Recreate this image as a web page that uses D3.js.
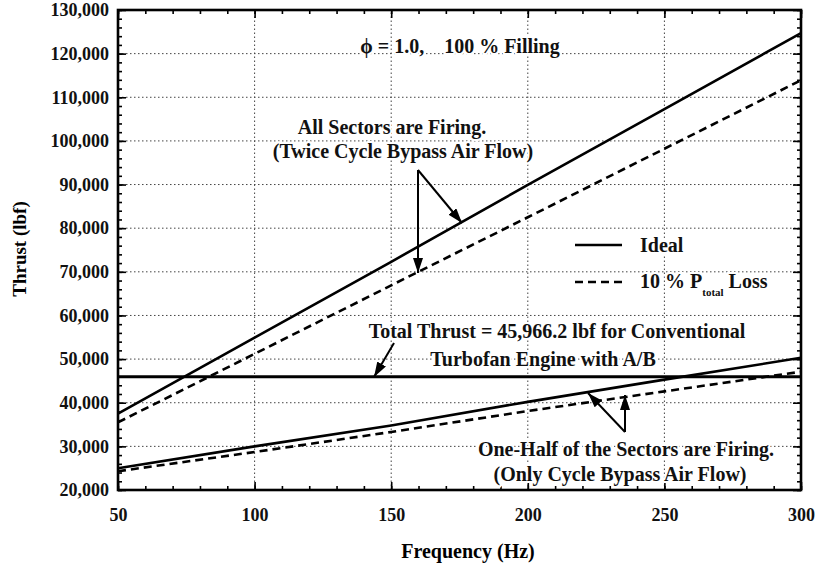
<!DOCTYPE html>
<html><head><meta charset="utf-8">
<script src="https://cdn.jsdelivr.net/npm/d3@7"></script>
<style>body{margin:0;background:#fff}svg{display:block}text{white-space:pre}</style>
</head><body>
<script>
// ---- data ----
const freq = [50, 100, 150, 200, 250, 300];
const allIdeal = [37500, 54900, 72300, 89900, 107300, 124700];
const allLoss  = [35500, 51200, 66900, 82500, 98200, 113900];
const halfIdeal = [25000, 30000, 34800, 40200, 45300, 50300];
const halfLoss  = [24300, 28700, 33300, 38100, 42600, 47100];
const conventional = 45966.2;
const xTicks = [50, 100, 150, 200, 250, 300];
const yTicks = [20000, 30000, 40000, 50000, 60000, 70000, 80000, 90000, 100000, 110000, 120000, 130000];

const W = 820, H = 574;
const m = {l: 118, r: 19, t: 10, b: 84};
const svg = d3.select("body").append("svg").attr("width", W).attr("height", H);
const x = d3.scaleLinear().domain([50, 300]).range([m.l, W - m.r]);
const y = d3.scaleLinear().domain([20000, 130000]).range([H - m.b, m.t]);
const font = "'Liberation Serif','Times New Roman',serif";

// grid
const grid = svg.append("g").attr("stroke", "#444").attr("stroke-width", 1).attr("stroke-dasharray", "1.5,2.5");
grid.selectAll(".gy").data(yTicks.slice(1, -1)).join("line")
  .attr("x1", x(50)).attr("x2", x(300)).attr("y1", d => y(d)).attr("y2", d => y(d));
grid.selectAll(".gx").data(xTicks.slice(1, -1)).join("line")
  .attr("y1", y(20000)).attr("y2", y(130000)).attr("x1", d => x(d)).attr("x2", d => x(d));

// axes with inward ticks
const yMinor = d3.range(20000, 130001, 2000);
const xMinor = d3.range(50, 301, 10);
const axG = svg.append("g");
const mk = (sel) => sel.call(g => g.select(".domain").remove());
axG.append("g").attr("transform", `translate(${x(50)},0)`)
  .call(d3.axisRight(y).tickValues(yMinor).tickSize(4).tickFormat("")).call(mk);
axG.append("g").attr("transform", `translate(${x(50)},0)`)
  .call(d3.axisRight(y).tickValues(yTicks).tickSize(8).tickFormat("")).call(mk);
axG.append("g").attr("transform", `translate(${x(300)},0)`)
  .call(d3.axisLeft(y).tickValues(yMinor).tickSize(4).tickFormat("")).call(mk);
axG.append("g").attr("transform", `translate(${x(300)},0)`)
  .call(d3.axisLeft(y).tickValues(yTicks).tickSize(8).tickFormat("")).call(mk);
axG.append("g").attr("transform", `translate(0,${y(20000)})`)
  .call(d3.axisTop(x).tickValues(xMinor).tickSize(4).tickFormat("")).call(mk);
axG.append("g").attr("transform", `translate(0,${y(20000)})`)
  .call(d3.axisTop(x).tickValues(xTicks).tickSize(8).tickFormat("")).call(mk);
axG.append("g").attr("transform", `translate(0,${y(130000)})`)
  .call(d3.axisBottom(x).tickValues(xMinor).tickSize(4).tickFormat("")).call(mk);
axG.append("g").attr("transform", `translate(0,${y(130000)})`)
  .call(d3.axisBottom(x).tickValues(xTicks).tickSize(8).tickFormat("")).call(mk);
axG.selectAll("line").attr("stroke", "#000").attr("stroke-width", 1.6);

// tick labels
const fmt = d3.format(",");
svg.append("g").attr("transform", `translate(${x(50) - 6},0)`)
  .call(d3.axisLeft(y).tickValues(yTicks).tickSize(0).tickFormat(fmt))
  .call(mk)
  .call(g => g.selectAll("text").attr("font-family", font).attr("font-weight", "bold")
    .attr("font-size", 18).attr("fill", "#111"));
svg.append("g").attr("transform", `translate(0,${y(20000) + 15})`)
  .call(d3.axisBottom(x).tickValues(xTicks).tickSize(0).tickFormat(d3.format("d")))
  .call(mk)
  .call(g => g.selectAll("text").attr("font-family", font).attr("font-weight", "bold")
    .attr("font-size", 18).attr("fill", "#111"));

// axis titles
svg.append("text").attr("x", 468).attr("y", 558).attr("text-anchor", "middle")
  .attr("font-family", font).attr("font-weight", "bold").attr("font-size", 20).text("Frequency (Hz)");
svg.append("text").attr("transform", "translate(26,249) rotate(-90)").attr("text-anchor", "middle")
  .attr("font-family", font).attr("font-weight", "bold").attr("font-size", 19).text("Thrust (lbf)");

// lines
const line = d3.line().x((d, i) => x(freq[i])).y(d => y(d));
const lines = [
  {v: allIdeal, dash: null}, {v: allLoss, dash: "8,5"},
  {v: halfIdeal, dash: null}, {v: halfLoss, dash: "8,5"}
];
svg.append("g").selectAll("path").data(lines).join("path")
  .attr("d", d => line(d.v)).attr("fill", "none").attr("stroke", "#000")
  .attr("stroke-width", 2.6).attr("stroke-dasharray", d => d.dash);
svg.append("line").attr("x1", x(50)).attr("x2", x(300))
  .attr("y1", y(conventional)).attr("y2", y(conventional))
  .attr("stroke", "#000").attr("stroke-width", 3);

// frame
svg.append("rect").attr("x", x(50)).attr("y", y(130000))
  .attr("width", x(300) - x(50)).attr("height", y(20000) - y(130000))
  .attr("fill", "none").attr("stroke", "#000").attr("stroke-width", 2.6);

// annotations
const ann = svg.append("g").attr("font-family", font).attr("font-weight", "bold")
  .attr("font-size", 20).attr("fill", "#111").attr("text-anchor", "middle")
  .attr("stroke", "#fff").attr("stroke-width", 4).attr("paint-order", "stroke").attr("stroke-linejoin", "round");
const t = (xx, yy, s) => ann.append("text").attr("x", xx).attr("y", yy).text(s);
t(460, 53, "ϕ = 1.0,    100 % Filling");
t(392, 134, "All Sectors are Firing.");
t(403, 158, "(Twice Cycle Bypass Air Flow)");
t(557, 338, "Total Thrust = 45,966.2 lbf for Conventional");
t(543, 366, "Turbofan Engine with A/B");
t(626, 456, "One-Half of the Sectors are Firing.");
t(620, 481, "(Only Cycle Bypass Air Flow)");

// legend
const lg = svg.append("g");
lg.append("line").attr("x1", 575).attr("x2", 622).attr("y1", 245).attr("y2", 245)
  .attr("stroke", "#000").attr("stroke-width", 2.6);
lg.append("line").attr("x1", 575).attr("x2", 622).attr("y1", 282).attr("y2", 282)
  .attr("stroke", "#000").attr("stroke-width", 2.6).attr("stroke-dasharray", "8,5");
const lt = lg.append("g").attr("font-family", font).attr("font-weight", "bold")
  .attr("font-size", 20).attr("fill", "#111")
  .attr("stroke", "#fff").attr("stroke-width", 4).attr("paint-order", "stroke");
lt.append("text").attr("x", 640).attr("y", 252).text("Ideal");
const l2 = lt.append("text").attr("x", 640).attr("y", 288);
l2.append("tspan").text("10 % P");
l2.append("tspan").attr("font-size", 11).attr("dy", 8).text("total");
l2.append("tspan").attr("dy", -8).attr("dx", 5).text("Loss");

// arrows
const defs = svg.append("defs");
defs.append("marker").attr("id", "ah").attr("viewBox", "0 0 15 10").attr("refX", 15).attr("refY", 5)
  .attr("markerWidth", 15).attr("markerHeight", 10).attr("markerUnits", "userSpaceOnUse")
  .attr("orient", "auto").append("path").attr("d", "M0,0L15,5L0,10Z").attr("fill", "#000");
const arrows = [
  [418, 170, 462, 223], [418, 170, 418, 273],
  [394, 343, 374, 377],
  [625, 432, 588, 393], [625, 432, 625, 395]
];
svg.append("g").selectAll("line").data(arrows).join("line")
  .attr("x1", d => d[0]).attr("y1", d => d[1]).attr("x2", d => d[2]).attr("y2", d => d[3])
  .attr("stroke", "#000").attr("stroke-width", 2).attr("marker-end", "url(#ah)");
</script>
</body></html>
